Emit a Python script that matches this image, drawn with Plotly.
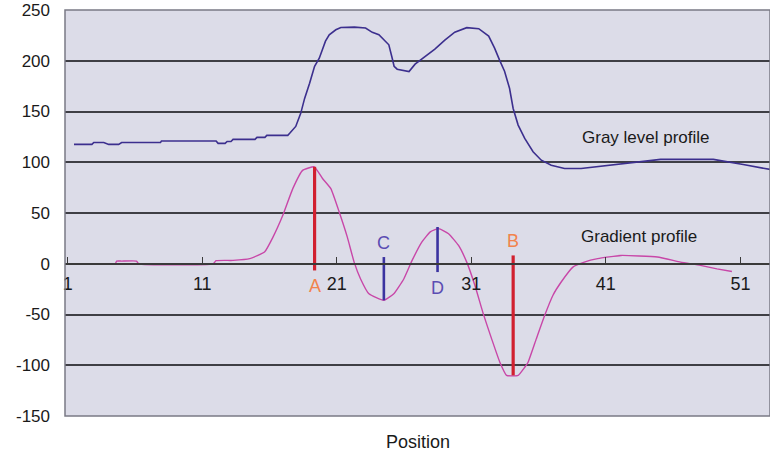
import plotly.graph_objects as go

# ---------------- data ----------------
gray_pos = [1.47, 2.80, 2.94, 3.68, 4.05, 4.79, 5.01, 7.90, 7.97, 12.03, 12.18, 12.70,
            12.85, 13.14, 13.29, 14.92, 15.07, 15.66, 15.80, 17.36, 17.50, 17.95, 18.32,
            18.61, 18.98, 19.35, 19.70, 20.16, 20.44, 20.93, 21.30, 22.31, 23.14, 23.64,
            24.13, 24.87, 25.12, 25.26, 25.49, 26.37, 26.82, 27.56, 28.29, 29.03, 29.77,
            30.66, 31.55, 32.29, 32.73, 33.10, 33.47, 33.84, 34.11, 34.48, 34.97, 35.59,
            36.20, 36.94, 37.93, 39.16, 40.14, 41.38, 43.82, 45.07, 48.99, 50.02, 51.21, 53.21]
gray_val = [117.6, 117.6, 119.5, 119.5, 117.6, 117.6, 119.5, 119.5, 121.0, 121.0, 118.6, 118.6,
            120.5, 120.5, 122.5, 122.5, 124.5, 124.5, 126.5, 126.5, 128.5, 135.3, 148.2,
            162.9, 177.8, 194.6, 202.5, 219.3, 225.6, 230.5, 232.8, 233.1, 232.2, 228.0,
            225.6, 215.7, 202.5, 194.6, 191.7, 189.4, 196.6, 204.5, 211.4, 220.3, 228.2,
            232.6, 231.6, 224.3, 212.4, 200.6, 189.7, 172.9, 153.0, 136.6, 123.5, 110.4,
            102.0, 97.0, 93.9, 93.9, 95.5, 96.8, 100.8, 102.8, 102.8, 100.8, 97.8, 92.9]

grad_pos = [4.55, 4.64, 5.01, 6.12, 6.27, 11.81, 12.03, 13.29, 14.53, 15.63, 16.25, 16.99,
            17.73, 18.46, 19.33, 19.94, 20.56, 21.18, 21.79, 22.29, 22.77, 23.39, 24.50,
            25.24, 25.98, 26.60, 27.33, 27.95, 28.57, 29.31, 30.05, 30.66, 31.27, 31.89,
            32.51, 33.12, 33.62, 34.48, 34.97, 35.22, 35.83, 36.45, 37.07, 37.68, 38.55,
            39.40, 40.39, 42.12, 44.83, 46.55, 48.03, 49.26, 50.37]
grad_val = [0.0, 2.6, 2.6, 2.6, 0.0, 0.0, 3.0, 3.3, 5.0, 11.5, 26.0, 47.7,
            74.0, 92.0, 95.5, 84.0, 74.0, 51.0, 26.0, 1.6, -15.0, -29.6, -36.0,
            -29.6, -15.0, 3.3, 21.5, 31.4, 34.6, 29.6, 18.0, 1.6, -21.5, -49.4,
            -74.0, -97.0, -110.0, -110.0, -102.0, -97.0, -74.0, -51.0, -31.0, -18.0, -3.3,
            1.6, 5.0, 8.2, 6.6, 1.6, -1.6, -5.0, -7.6]

marker_names = ["A", "C", "D", "B"]
marker_pos = [19.35, 24.50, 28.49, 34.11]
marker_top = [95.5, 6.6, 36.2, 8.2]
marker_bottom = [-6.6, -36.0, -8.2, -110.0]

x_ticks = [1, 11, 21, 31, 41, 51]
y_ticks = [-150, -100, -50, 0, 50, 100, 150, 200, 250]

profile_labels = ["Gray level profile", "Gradient profile"]
profile_label_x = [43.96, 43.45]
profile_label_y = [124.5, 26.7]

# ---------------- style ----------------
FONT = "Liberation Sans, Arial, sans-serif"
red_line = "#d1202f"
blue_line = "#3b33a0"
orange_txt = "#f2834d"
blue_txt = "#5b4db3"
marker_style = {
    "A": (red_line, orange_txt, "below", 3.2),
    "B": (red_line, orange_txt, "above", 3.2),
    "C": (blue_line, blue_txt, "above", 2.6),
    "D": (blue_line, blue_txt, "below", 2.6),
}

fig = go.Figure()

fig.add_trace(go.Scatter(x=gray_pos, y=gray_val, mode="lines",
                         line=dict(color="#3c2f8e", width=1.6),
                         hoverinfo="skip", showlegend=False))
fig.add_trace(go.Scatter(x=grad_pos, y=grad_val, mode="lines",
                         line=dict(color="#c847a8", width=1.4, shape="spline", smoothing=0.4),
                         hoverinfo="skip", showlegend=False))

annotations = []
for name, p, top, bot in zip(marker_names, marker_pos, marker_top, marker_bottom):
    lc, tc, side, w = marker_style[name]
    fig.add_trace(go.Scatter(x=[p, p], y=[bot, top], mode="lines",
                             line=dict(color=lc, width=w),
                             hoverinfo="skip", showlegend=False))
    if side == "above":
        annotations.append(dict(x=p, y=top, text=name, showarrow=False, xanchor="center",
                                yanchor="bottom", yshift=2,
                                font=dict(family=FONT, size=18, color=tc)))
    else:
        annotations.append(dict(x=p, y=bot, text=name, showarrow=False, xanchor="center",
                                yanchor="top", yshift=-4,
                                font=dict(family=FONT, size=18, color=tc)))

for t, lx, ly in zip(profile_labels, profile_label_x, profile_label_y):
    annotations.append(dict(x=lx, y=ly, text=t, showarrow=False, xanchor="center",
                            yanchor="middle", font=dict(family=FONT, size=17, color="#1a1a1a")))

annotations.append(dict(xref="paper", yref="paper", x=0.5, y=0, text="Position",
                        showarrow=False, xanchor="center", yanchor="top", yshift=-14,
                        font=dict(family=FONT, size=18, color="#1a1a1a")))

y0, y1 = y_ticks[0], y_ticks[-1]
zero_frac = (0 - y0) / (y1 - y0)

fig.update_layout(
    width=770, height=453,
    margin=dict(l=65, r=0, t=10, b=37),
    paper_bgcolor="white",
    plot_bgcolor="#dcdce8",
    font=dict(family=FONT, size=17, color="#1a1a1a"),
    annotations=annotations,
    shapes=[dict(type="rect", xref="paper", yref="paper", x0=0, x1=1, y0=0, y1=1,
                 line=dict(color="#7a7a85", width=1.5), layer="above")],
    xaxis=dict(range=[0.8, 53.2], tickvals=x_ticks, ticktext=[str(v) for v in x_ticks],
               anchor="free", position=zero_frac, showgrid=False, zeroline=False,
               showline=True, linecolor="#3a3a3a", linewidth=1.5,
               ticks="inside", ticklen=6, tickcolor="#3a3a3a", tickwidth=1,
               ticklabelstandoff=4,
               tickfont=dict(family=FONT, size=18, color="#1a1a1a")),
    yaxis=dict(range=[y0, y1], tickvals=y_ticks, ticktext=[str(v) for v in y_ticks],
               showgrid=True, gridcolor="#3f3f45", gridwidth=1.5, zeroline=False,
               showline=False, ticks="", ticklabelstandoff=14,
               tickfont=dict(family=FONT, size=17, color="#1a1a1a")),
)

fig.write_html("out.html")
